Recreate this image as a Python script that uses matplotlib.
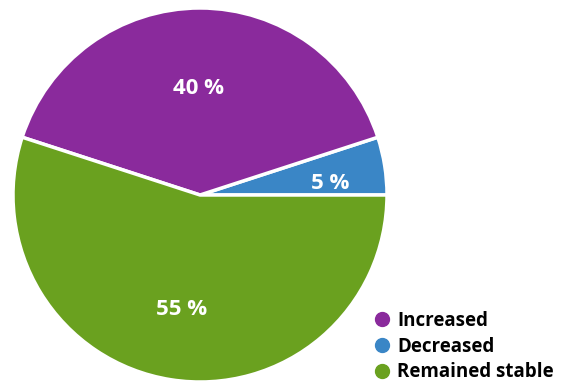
import numpy as np
import matplotlib
matplotlib.use("Agg")
import matplotlib.pyplot as plt
from matplotlib.lines import Line2D

# share of respondents per answer
categories = ["Decreased", "Increased", "Remained stable"]
shares = [5, 40, 55]
colors = ["#3a86c6", "#8a2a9c", "#6aa11f"]
legend_order = ["Increased", "Decreased", "Remained stable"]

plt.rcParams["font.family"] = ["Open Sans", "DejaVu Sans"]
plt.rcParams["font.weight"] = "bold"

W, H = 578, 382
fig = plt.figure(figsize=(W / 100, H / 100), dpi=100)

# pie centre at (200, 195) px from top-left, radius 187 px
cx, cy, r = 200, 195, 187
ax = fig.add_axes([(cx - r) / W, (H - cy - r) / H, 2 * r / W, 2 * r / H])

wedges, _, autotexts = ax.pie(
    shares, colors=colors, startangle=0, counterclock=True, radius=1,
    autopct=lambda p: f"{p:.0f} %", pctdistance=0.6,
    wedgeprops=dict(edgecolor="white", linewidth=2.5),
    textprops=dict(color="white", fontsize=16, fontweight="bold"),
)
ax.set_xlim(-1, 1)
ax.set_ylim(-1, 1)
ax.set_aspect("equal")
ax.axis("off")

# label distance / angle tweaks per slice
label_pos = {"Decreased": (0.70, 5), "Increased": (0.57, 91), "Remained stable": (0.62, 261)}
for name, t in zip(categories, autotexts):
    d, a = label_pos[name]
    t.set_position((d * np.cos(np.radians(a)), d * np.sin(np.radians(a))))

handles = []
for name in legend_order:
    c = colors[categories.index(name)]
    handles.append(Line2D([], [], marker="o", linestyle="none", markersize=10,
                          markerfacecolor=c, markeredgecolor=c, label=name))
fig.legend(handles=handles, loc="lower left", bbox_to_anchor=(356 / W, -17 / H),
           frameon=False, handletextpad=0.3, labelspacing=0.3,
           prop=dict(size=13.5, weight="bold"), handlelength=1.0)

fig.savefig("out.png", dpi=100)
